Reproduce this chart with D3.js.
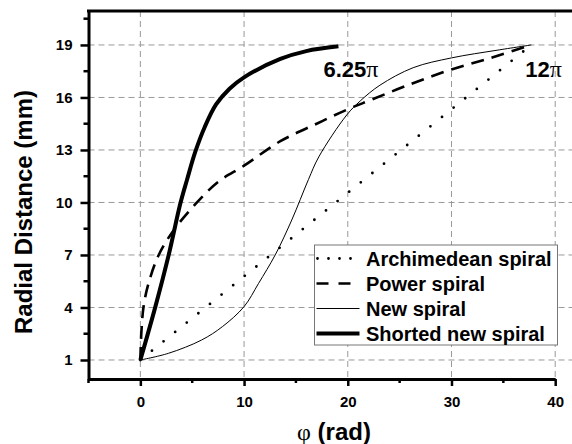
<!DOCTYPE html>
<html>
<head>
<meta charset="utf-8">
<script src="https://cdn.jsdelivr.net/npm/d3@7"></script>
<style>
  body { margin: 0; background: #fff; }
  text { font-family: "Liberation Sans", Arial, sans-serif; font-weight: bold; fill: #000; }
  .grid line { stroke: #999; stroke-width: 1; stroke-dasharray: 6,4; }
</style>
</head>
<body>
<script>
'use strict'
// values (phi in rad, r in mm)
const archPhi = [0, 37.7];
const archR = [1, 19];

const powerPhi = [0, 0.1, 0.32, 0.8, 1.77, 3.2, 5.3, 7.55, 10, 13.5, 17, 20.1, 22.2, 26, 30, 34, 37.7];
const powerR = [1, 2.6, 4.1, 5.4, 7.0, 8.4, 9.9, 11.2, 12.1, 13.5, 14.5, 15.35, 15.85, 16.75, 17.6, 18.3, 19];

const newPhi = [0, 2.7, 5.9, 7.9, 10, 11.4, 13, 14.6, 16.2, 17.2, 19.9, 21.2, 23.1, 26.3, 30, 34.4, 37.7];
const newR = [1, 1.38, 2.14, 2.9, 4.05, 5.38, 7.0, 9.0, 11.3, 12.6, 15.0, 15.8, 16.7, 17.7, 18.26, 18.7, 19];

const shortPhi = [0, 1.45, 2.73, 3.86, 4.5, 5.3, 6.2, 7.3, 8.6, 10, 13.5, 16, 19.1];
const shortR = [1, 4.05, 7.0, 9.95, 11.3, 12.9, 14.3, 15.6, 16.5, 17.15, 18.2, 18.65, 18.92];

const phiTicks = [0, 10, 20, 30, 40];
const rTicks = [1, 4, 7, 10, 13, 16, 19];
const seriesNames = ["Archimedean spiral", "Power spiral", "New spiral", "Shorted new spiral"];
const endLabels = ["6.25", "12"];

const w = 572;
const h = 444;

const xScale = d3.scaleLinear()
    .domain([-5, 40])
    .range([88.5, 555.2]);

const yScale = d3.scaleLinear()
    .domain([-0.086, 20.94])
    .range([379, 11]);

const svg = d3.select("body")
    .append("svg")
    .attr("width", w)
    .attr("height", h);

// grid
const grid = svg.append("g").attr("class", "grid");
grid.selectAll(".gx")
    .data(phiTicks)
    .enter()
    .append("line")
    .attr("x1", (d) => xScale(d))
    .attr("x2", (d) => xScale(d))
    .attr("y1", yScale.range()[1])
    .attr("y2", yScale.range()[0]);
grid.selectAll(".gy")
    .data(rTicks)
    .enter()
    .append("line")
    .attr("x1", xScale.range()[0])
    .attr("x2", w)
    .attr("y1", (d) => yScale(d))
    .attr("y2", (d) => yScale(d));

// series
const toPts = (xs, ys) => xs.map((d, i) => [d, ys[i]]);
const line = d3.line()
    .x((d) => xScale(d[0]))
    .y((d) => yScale(d[1]))
    .curve(d3.curveCatmullRom.alpha(0.5));

const series = [
    { pts: toPts(archPhi, archR), width: 2.8, dash: "0,14.9", cap: "round" },
    { pts: toPts(powerPhi, powerR), width: 2.6, dash: "13,8", cap: "butt" },
    { pts: toPts(newPhi, newR), width: 1, dash: null, cap: "butt" },
    { pts: toPts(shortPhi, shortR), width: 4, dash: null, cap: "butt" }
];

svg.selectAll(".series")
    .data(series)
    .enter()
    .append("path")
    .attr("class", "series")
    .attr("d", (d) => line(d.pts))
    .attr("fill", "none")
    .attr("stroke", "#000")
    .attr("stroke-width", (d) => d.width)
    .attr("stroke-dasharray", (d) => d.dash)
    .attr("stroke-linecap", (d) => d.cap);

// end labels
const ends = [
    { text: endLabels[0], x: xScale(shortPhi[shortPhi.length - 1]) - 15 },
    { text: endLabels[1], x: xScale(newPhi[newPhi.length - 1]) - 6 }
];
ends.forEach((e) => {
    const t = svg.append("text")
        .attr("x", e.x)
        .attr("y", 76.5)
        .style("font-size", "22px");
    t.append("tspan").text(e.text);
    t.append("tspan")
        .style("font-family", "'Liberation Serif', serif")
        .style("font-weight", "normal")
        .style("font-size", "24px")
        .text("π");
});

// axes
const xAxis = d3.axisBottom(xScale)
    .tickValues(phiTicks)
    .tickSize(7)
    .tickSizeOuter(0)
    .tickPadding(10)
    .tickFormat(d3.format("d"));

const yAxis = d3.axisLeft(yScale)
    .tickValues(rTicks)
    .tickSize(8)
    .tickSizeOuter(0)
    .tickPadding(8)
    .tickFormat(d3.format("d"));

const gx = svg.append("g")
    .attr("transform", "translate(0," + yScale.range()[0] + ")")
    .call(xAxis);

const gy = svg.append("g")
    .attr("transform", "translate(" + xScale.range()[0] + ",0)")
    .call(yAxis);

[gx, gy].forEach((g) => {
    g.select(".domain").attr("stroke", "#000").attr("stroke-width", 3);
    g.selectAll(".tick line").attr("stroke", "#000").attr("stroke-width", 2.5);
    g.selectAll(".tick text").style("font-size", "15px").attr("fill", "#000");
});

// minor ticks
gx.selectAll(".minor")
    .data(d3.range(-5, 40, 10))
    .enter()
    .append("line")
    .attr("x1", (d) => xScale(d))
    .attr("x2", (d) => xScale(d))
    .attr("y1", 0)
    .attr("y2", 4)
    .attr("stroke", "#000")
    .attr("stroke-width", 2.5);

gy.selectAll(".minor")
    .data(d3.range(2.5, 21, 3))
    .enter()
    .append("line")
    .attr("x1", 0)
    .attr("x2", -5)
    .attr("y1", (d) => yScale(d))
    .attr("y2", (d) => yScale(d))
    .attr("stroke", "#000")
    .attr("stroke-width", 2.5);

// top frame line
svg.append("line")
    .attr("x1", xScale.range()[0] - 1.5)
    .attr("x2", w)
    .attr("y1", yScale.range()[1])
    .attr("y2", yScale.range()[1])
    .attr("stroke", "#000")
    .attr("stroke-width", 3);

// axis titles
const xt = svg.append("text")
    .attr("x", 334)
    .attr("y", 440)
    .attr("text-anchor", "middle")
    .style("font-size", "24px");
xt.append("tspan")
    .style("font-family", "'Liberation Serif', serif")
    .style("font-weight", "normal")
    .text("φ");
xt.append("tspan").text(" (rad)");

svg.append("text")
    .attr("transform", "rotate(-90)")
    .attr("x", -212)
    .attr("y", 32)
    .attr("text-anchor", "middle")
    .style("font-size", "24px")
    .text("Radial Distance (mm)");

// legend
const legend = svg.append("g").attr("transform", "translate(314.5,245)");
legend.append("rect")
    .attr("width", 243)
    .attr("height", 100)
    .attr("fill", "#fff")
    .attr("stroke", "#777")
    .attr("stroke-width", 1);

const rows = legend.selectAll(".row")
    .data(series)
    .enter()
    .append("g")
    .attr("transform", (d, i) => "translate(0," + (13.5 + i * 25) + ")");

rows.append("line")
    .attr("x1", (d, i) => i === 0 ? 3 : 2)
    .attr("x2", 45)
    .attr("stroke", "#000")
    .attr("stroke-width", (d) => d.width)
    .attr("stroke-dasharray", (d, i) => i === 0 ? "0,11" : i === 1 ? "12,10" : null)
    .attr("stroke-linecap", (d) => d.cap);

rows.append("text")
    .attr("x", 51.5)
    .attr("dy", "0.36em")
    .style("font-size", "20px")
    .text((d, i) => seriesNames[i]);
</script>
</body>
</html>
